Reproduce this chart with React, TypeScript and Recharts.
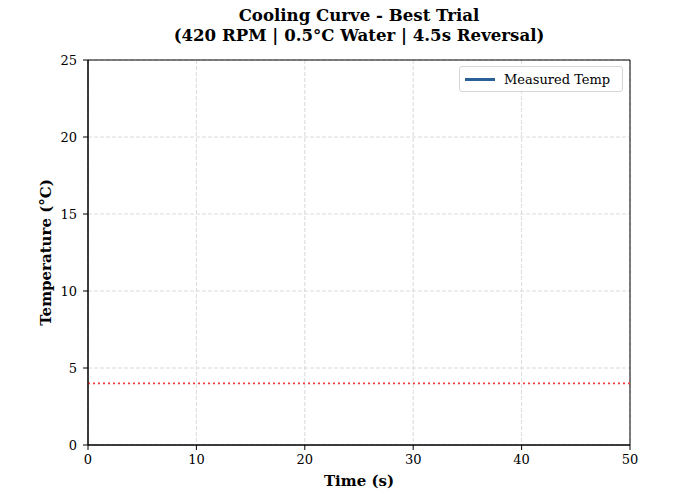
import React from 'react';
import { LineChart, Line, XAxis, YAxis, CartesianGrid, Legend, ReferenceLine, ReferenceArea } from 'recharts';

// Measured samples: none fall inside the plotted window in the reference
const timeSeconds: number[] = [];
const measuredTemp: number[] = [];

const TARGET_TEMP = 4;
const xTicks = [0, 10, 20, 30, 40, 50];
const yTicks = [0, 5, 10, 15, 20, 25];

const chartData = timeSeconds.map((t, i) => ({ time: t, temp: measuredTemp[i] }));

const FONT = '"DejaVu Serif", serif';
const LINE_COLOR = '#2b5f98';

const LegendBox = () => (
  <div
    style={{
      position: 'absolute',
      left: 459,
      top: 66,
      width: 164,
      height: 26,
      border: '1px solid #d6d6d6',
      borderRadius: 3,
      background: 'rgba(255,255,255,0.8)',
      fontFamily: FONT,
      fontSize: 13,
      display: 'flex',
      alignItems: 'center',
      boxSizing: 'border-box',
    }}
  >
    <span style={{ display: 'inline-block', width: 30, height: 3, background: LINE_COLOR, marginLeft: 5, marginRight: 9 }} />
    <span>Measured Temp</span>
  </div>
);

export default function App() {
  return (
    <div style={{ position: 'absolute', left: 0, top: 0, width: 700, height: 500, background: '#fff' }}>
      <div style={{ position: 'absolute', left: 0, top: 5, width: 718, textAlign: 'center', fontFamily: FONT, fontWeight: 'bold', fontSize: 16.6, lineHeight: '20px' }}>
        Cooling Curve - Best Trial
        <br />
        (420 RPM | 0.5°C Water | 4.5s Reversal)
      </div>
      <LineChart width={700} height={500} data={chartData} margin={{ top: 60, right: 70, left: 28, bottom: 0 }}>
        <CartesianGrid stroke="#d0d0d0" strokeDasharray="4 2" strokeWidth={0.8} />
        <XAxis
          dataKey="time"
          type="number"
          domain={[0, 50]}
          ticks={xTicks}
          allowDataOverflow
          height={55}
          tickSize={5}
          tickMargin={5}
          stroke="#000"
          tick={{ fill: '#000', fontFamily: FONT, fontSize: 13 }}
          label={{ value: 'Time (s)', position: 'insideBottom', offset: 14, fill: '#000', fontFamily: FONT, fontSize: 15, fontWeight: 'bold' }}
        />
        <YAxis
          type="number"
          domain={[0, 25]}
          ticks={yTicks}
          allowDataOverflow
          width={60}
          tickSize={5}
          tickMargin={6}
          stroke="#000"
          tick={{ fill: '#000', fontFamily: FONT, fontSize: 13 }}
          label={{ value: 'Temperature (°C)', angle: -90, position: 'insideLeft', offset: 18, fill: '#000', fontFamily: FONT, fontSize: 15, fontWeight: 'bold', style: { textAnchor: 'middle' } }}
        />
        <ReferenceArea x1={0} x2={50} y1={0} y2={25} fill="none" stroke="#000" strokeWidth={1} ifOverflow="visible" />
        <ReferenceLine y={TARGET_TEMP} stroke="#f03c3c" strokeDasharray="2 3" strokeWidth={1.6} />
        <Line type="linear" dataKey="temp" name="Measured Temp" stroke={LINE_COLOR} strokeWidth={2.5} dot={false} isAnimationActive={false} />
        <Legend content={() => <LegendBox />} wrapperStyle={{ position: 'absolute', left: 0, top: 0, width: 0, height: 0 }} />
      </LineChart>
    </div>
  );
}
